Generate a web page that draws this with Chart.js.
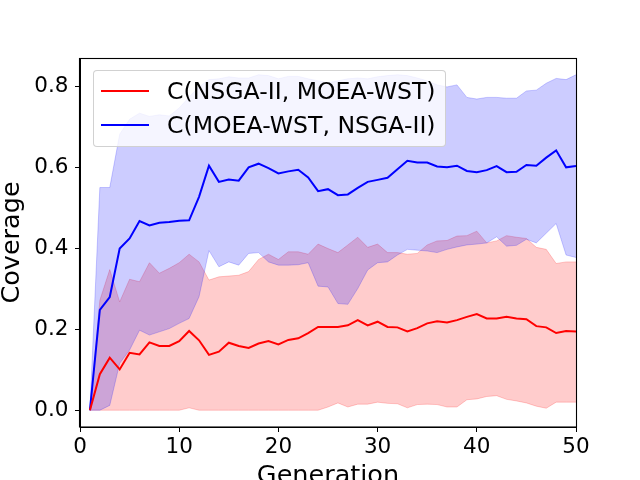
<!DOCTYPE html>
<html>
<head>
<meta charset="utf-8">
<script src="https://cdn.jsdelivr.net/npm/chart.js@4.4.1/dist/chart.umd.min.js"></script>
<style>
  html, body { margin: 0; padding: 0; background: #fff; overflow: hidden; }
  #wrap { position: relative; width: 640px; height: 489px; }
  #c { position: absolute; left: 0; top: 0; }
  #legend {
    position: absolute; left: 92.5px; top: 70px; width: 353px; height: 77px;
    border: 1px solid rgba(204,204,204,0.9); border-radius: 4px;
    background: rgba(255,255,255,0.8); box-sizing: border-box;
    font-family: "DejaVu Sans", sans-serif; font-size: 23.6px; color: #000;
  }
  .item { position: absolute; left: 0; height: 28px; line-height: 28px; white-space: nowrap; }
  .swatch { position: absolute; left: 7px; width: 48px; height: 2px; top: 13px; }
  .lbl { position: absolute; left: 73.5px; top: 0; }
</style>
</head>
<body>
<div id="wrap">
  <canvas id="c" width="640" height="489"></canvas>
  <div id="legend"></div>
</div>
<script>
const generations = [1,2,3,4,5,6,7,8,9,10,11,12,13,14,15,16,17,18,19,20,21,22,23,24,25,26,27,28,29,30,31,32,33,34,35,36,37,38,39,40,41,42,43,44,45,46,47,48,49,50];

const seriesLabels = ["C(NSGA-II, MOEA-WST)", "C(MOEA-WST, NSGA-II)"];

const redMean = [0,0.089,0.13,0.101,0.142,0.138,0.168,0.159,0.159,0.171,0.196,0.173,0.137,0.145,0.167,0.159,0.154,0.165,0.171,0.163,0.174,0.178,0.191,0.206,0.206,0.206,0.21,0.223,0.21,0.219,0.206,0.205,0.195,0.203,0.215,0.22,0.217,0.223,0.231,0.238,0.227,0.227,0.231,0.227,0.225,0.208,0.205,0.191,0.196,0.195];
const redUpper = [0,0.272,0.348,0.268,0.324,0.318,0.365,0.339,0.351,0.365,0.386,0.367,0.322,0.33,0.332,0.334,0.343,0.373,0.386,0.373,0.392,0.392,0.386,0.411,0.40,0.39,0.409,0.428,0.403,0.411,0.39,0.39,0.386,0.388,0.409,0.419,0.42,0.431,0.432,0.443,0.414,0.419,0.432,0.428,0.425,0.403,0.398,0.363,0.367,0.367];
const redLower = [0,0,0,0,0,0,0,0,0,0,0.006,0,0,0,0,0,0,0,0,0,0,0,0,0,0.008,0.018,0.008,0.015,0.015,0.02,0.017,0.016,0.006,0.014,0.015,0.014,0.008,0.008,0.026,0.028,0.034,0.036,0.027,0.023,0.018,0.01,0.005,0.02,0.02,0.02];

const blueMean = [0,0.248,0.28,0.40,0.425,0.468,0.457,0.464,0.466,0.469,0.47,0.528,0.605,0.565,0.571,0.568,0.601,0.61,0.599,0.586,0.591,0.595,0.576,0.542,0.547,0.532,0.534,0.55,0.565,0.57,0.575,0.596,0.617,0.613,0.613,0.603,0.601,0.605,0.592,0.589,0.594,0.604,0.589,0.59,0.607,0.605,0.625,0.643,0.601,0.604];
const blueUpper = [0,0.551,0.551,0.683,0.72,0.735,0.727,0.731,0.728,0.748,0.775,0.80,0.818,0.82,0.825,0.822,0.822,0.83,0.828,0.82,0.826,0.826,0.82,0.815,0.81,0.815,0.82,0.822,0.82,0.825,0.828,0.83,0.828,0.822,0.815,0.805,0.80,0.805,0.774,0.77,0.774,0.774,0.772,0.772,0.79,0.792,0.809,0.821,0.818,0.83];
const blueLower = [0,0,0.012,0.116,0.149,0.198,0.186,0.194,0.202,0.215,0.227,0.281,0.395,0.355,0.367,0.359,0.388,0.39,0.367,0.359,0.359,0.36,0.365,0.307,0.305,0.264,0.262,0.301,0.347,0.365,0.367,0.384,0.398,0.396,0.394,0.39,0.398,0.404,0.409,0.411,0.414,0.429,0.406,0.408,0.423,0.414,0.438,0.462,0.384,0.378];

const xTicks = [0,10,20,30,40,50];
const yTicks = [0.0,0.2,0.4,0.6,0.8];
const xTitle = "Generation";
const yTitle = "Coverage";

const RED = "#ff0000", BLUE = "#0000ff";
const RED_BAND = "rgba(255,0,0,0.2)", BLUE_BAND = "rgba(0,0,255,0.2)";

function pts(arr) { return generations.map((g, i) => ({x: g, y: arr[i]})); }

const lineStyle = { pointRadius: 0, borderWidth: 2, tension: 0, fill: false };
const bandStyle = { pointRadius: 0, borderWidth: 1, tension: 0 };

const datasets = [
  Object.assign({ label: seriesLabels[0], data: pts(redMean), borderColor: RED, order: 0 }, lineStyle),
  Object.assign({ label: seriesLabels[1], data: pts(blueMean), borderColor: BLUE, order: 0 }, lineStyle),
  Object.assign({ label: "blueUpper", data: pts(blueUpper), borderColor: BLUE_BAND, backgroundColor: BLUE_BAND, fill: "+1", order: 1 }, bandStyle),
  Object.assign({ label: "blueLower", data: pts(blueLower), borderColor: BLUE_BAND, fill: false, order: 1 }, bandStyle),
  Object.assign({ label: "redUpper", data: pts(redUpper), borderColor: RED_BAND, backgroundColor: RED_BAND, fill: "+1", order: 2 }, bandStyle),
  Object.assign({ label: "redLower", data: pts(redLower), borderColor: RED_BAND, fill: false, order: 2 }, bandStyle)
];

const frame = {
  id: "frame",
  afterDraw(chart) {
    const a = chart.chartArea, ctx = chart.ctx;
    ctx.save();
    ctx.strokeStyle = "#000";
    ctx.lineWidth = 1.1;
    ctx.strokeRect(Math.round(a.left) - 0.5, Math.round(a.top) + 0.5, Math.round(a.right - a.left) + 1, Math.round(a.bottom - a.top) - 0.5);
    ctx.restore();
  }
};

const tickFont = { family: "DejaVu Sans", size: 21.5 };
const titleFont = { family: "DejaVu Sans", size: 25.5, lineHeight: 1.0 };

new Chart(document.getElementById("c"), {
  type: "line",
  data: { datasets },
  options: {
    responsive: false,
    animation: false,
    devicePixelRatio: 1,
    layout: { padding: { top: 58, right: 64, left: 0, bottom: 0 } },
    plugins: { legend: { display: false }, tooltip: { enabled: false } },
    scales: {
      x: {
        type: "linear", min: 0, max: 50,
        afterBuildTicks: s => { s.ticks = xTicks.map(v => ({ value: v })); },
        afterFit: s => { s.height = 62; },
        ticks: { color: "#000", font: tickFont, padding: 3, maxRotation: 0, callback: v => String(v) },
        grid: { display: true, drawOnChartArea: false, drawTicks: true, tickLength: 5, color: "#000", tickWidth: 1 },
        border: { display: true, color: "#000", width: 1 },
        title: { display: true, text: xTitle, color: "#000", font: titleFont, padding: { top: 0, bottom: 0 } }
      },
      y: {
        type: "linear", min: -0.0415, max: 0.8715,
        afterBuildTicks: s => { s.ticks = yTicks.map(v => ({ value: v })); },
        afterFit: s => { s.width = 80; },
        ticks: { color: "#000", font: tickFont, padding: 6.5, callback: v => Number(v).toFixed(1) },
        grid: { display: true, drawOnChartArea: false, drawTicks: true, tickLength: 5, color: "#000", tickWidth: 1 },
        border: { display: true, color: "#000", width: 1 },
        title: { display: true, text: yTitle, color: "#000", font: titleFont, padding: { top: 0, bottom: 0 } }
      }
    }
  },
  plugins: [frame]
});

// Legend (real text), built from the series labels
const legend = document.getElementById("legend");
[[seriesLabels[0], RED, 5.5], [seriesLabels[1], BLUE, 40]].forEach(([txt, col, top]) => {
  const it = document.createElement("div");
  it.className = "item";
  it.style.top = top + "px";
  const sw = document.createElement("div");
  sw.className = "swatch";
  sw.style.background = col;
  const lb = document.createElement("span");
  lb.className = "lbl";
  lb.textContent = txt;
  it.appendChild(sw); it.appendChild(lb);
  legend.appendChild(it);
});
</script>
</body>
</html>
